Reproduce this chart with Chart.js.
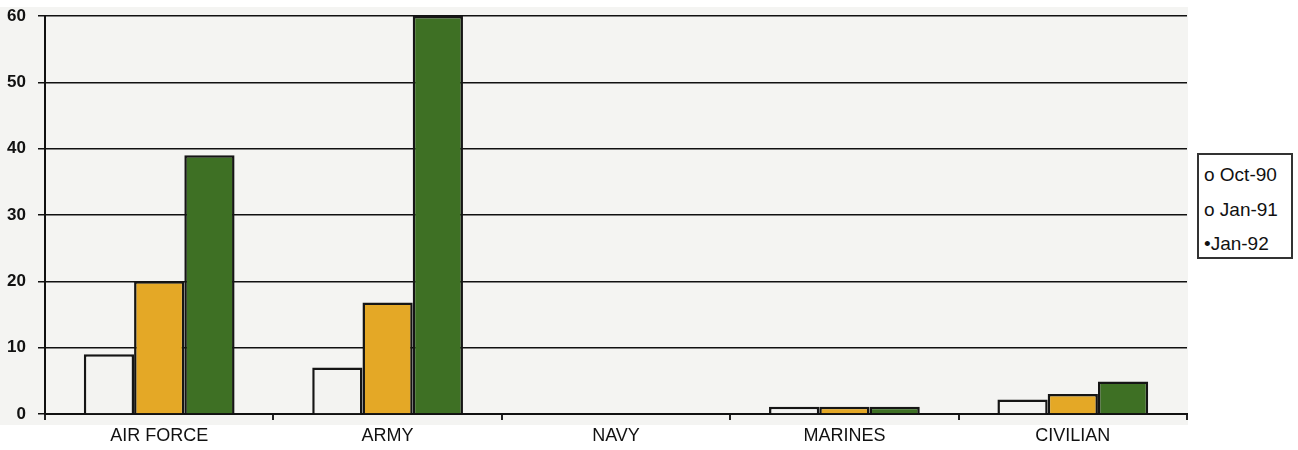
<!DOCTYPE html>
<html>
<head>
<meta charset="utf-8">
<script src="https://cdn.jsdelivr.net/npm/chart.js@4"></script>
<style>
  html, body { margin: 0; padding: 0; background: #ffffff; }
  #wrap { position: relative; width: 1298px; height: 450px; }
  #legend {
    position: absolute; left: 1197px; top: 153px; width: 92px; height: 102px;
    border: 2px solid #333; background: #fff;
    font-family: "Liberation Sans", Arial, sans-serif; font-size: 19px; color: #111;
  }
  #legend div { position: absolute; left: 5px; line-height: 22px; }
</style>
</head>
<body>
<div id="wrap">
  <canvas id="chart" width="1298" height="450"></canvas>
  <div id="legend"></div>
</div>
<script>
const categories = ['AIR FORCE', 'ARMY', 'NAVY', 'MARINES', 'CIVILIAN'];
const seriesLabels = ['Oct-90', 'Jan-91', 'Jan-92'];
const legendMarks = ['o ', 'o ', '\u2022'];
const oct90 = [9, 7, null, 1.1, 2.2];
const jan91 = [20, 16.8, null, 1.1, 3];
const jan92 = [39, 60, null, 1.1, 4.9];
const yTicks = [0, 10, 20, 30, 40, 50, 60];

const colors = ['#f3f3f1', '#e4a826', '#3e7024'];

// fondo gris del area del grafico
const plotBg = {
  id: 'plotBg',
  beforeDraw(chart) {
    const { ctx, chartArea } = chart;
    ctx.save();
    ctx.fillStyle = '#f4f4f2';
    ctx.fillRect(0, 7, chartArea.right + 1, chartArea.bottom + 4);
    ctx.restore();
  }
};

const font = "'Liberation Sans', Arial, sans-serif";

new Chart(document.getElementById('chart'), {
  type: 'bar',
  data: {
    labels: categories,
    datasets: [oct90, jan91, jan92].map((d, i) => ({
      label: seriesLabels[i],
      data: d,
      backgroundColor: colors[i],
      borderColor: '#151515',
      borderWidth: 2.5,
      categoryPercentage: 0.66,
      barPercentage: 1.0
    }))
  },
  options: {
    responsive: false,
    animation: false,
    layout: { padding: { top: 16, right: 111, bottom: 0, left: 0 } },
    plugins: { legend: { display: false }, tooltip: { enabled: false } },
    scales: {
      x: {
        afterFit: s => { s.height = 36; },
        grid: { drawOnChartArea: false, drawTicks: true, tickLength: 6, color: '#222', lineWidth: 2 },
        border: { color: '#111', width: 2 },
        ticks: { color: '#111', padding: 5, maxRotation: 0, font: { family: font, size: 18 } }
      },
      y: {
        min: 0,
        max: 60,
        afterBuildTicks: s => { s.ticks = yTicks.map(v => ({ value: v })); },
        afterFit: s => { s.width = 45; s.paddingTop = 0; s.paddingBottom = 0; },
        grid: { color: '#111', lineWidth: 1.5, tickLength: 7 },
        border: { color: '#111', width: 2 },
        ticks: { color: '#111', padding: 12, font: { family: font, size: 17, weight: 'bold', lineHeight: 1 } }
      }
    }
  },
  plugins: [plotBg]
});

const legend = document.getElementById('legend');
seriesLabels.forEach((l, i) => {
  const el = document.createElement('div');
  el.style.top = (9 + i * 34.5) + 'px';
  el.textContent = legendMarks[i] + l;
  legend.appendChild(el);
});
</script>
</body>
</html>
